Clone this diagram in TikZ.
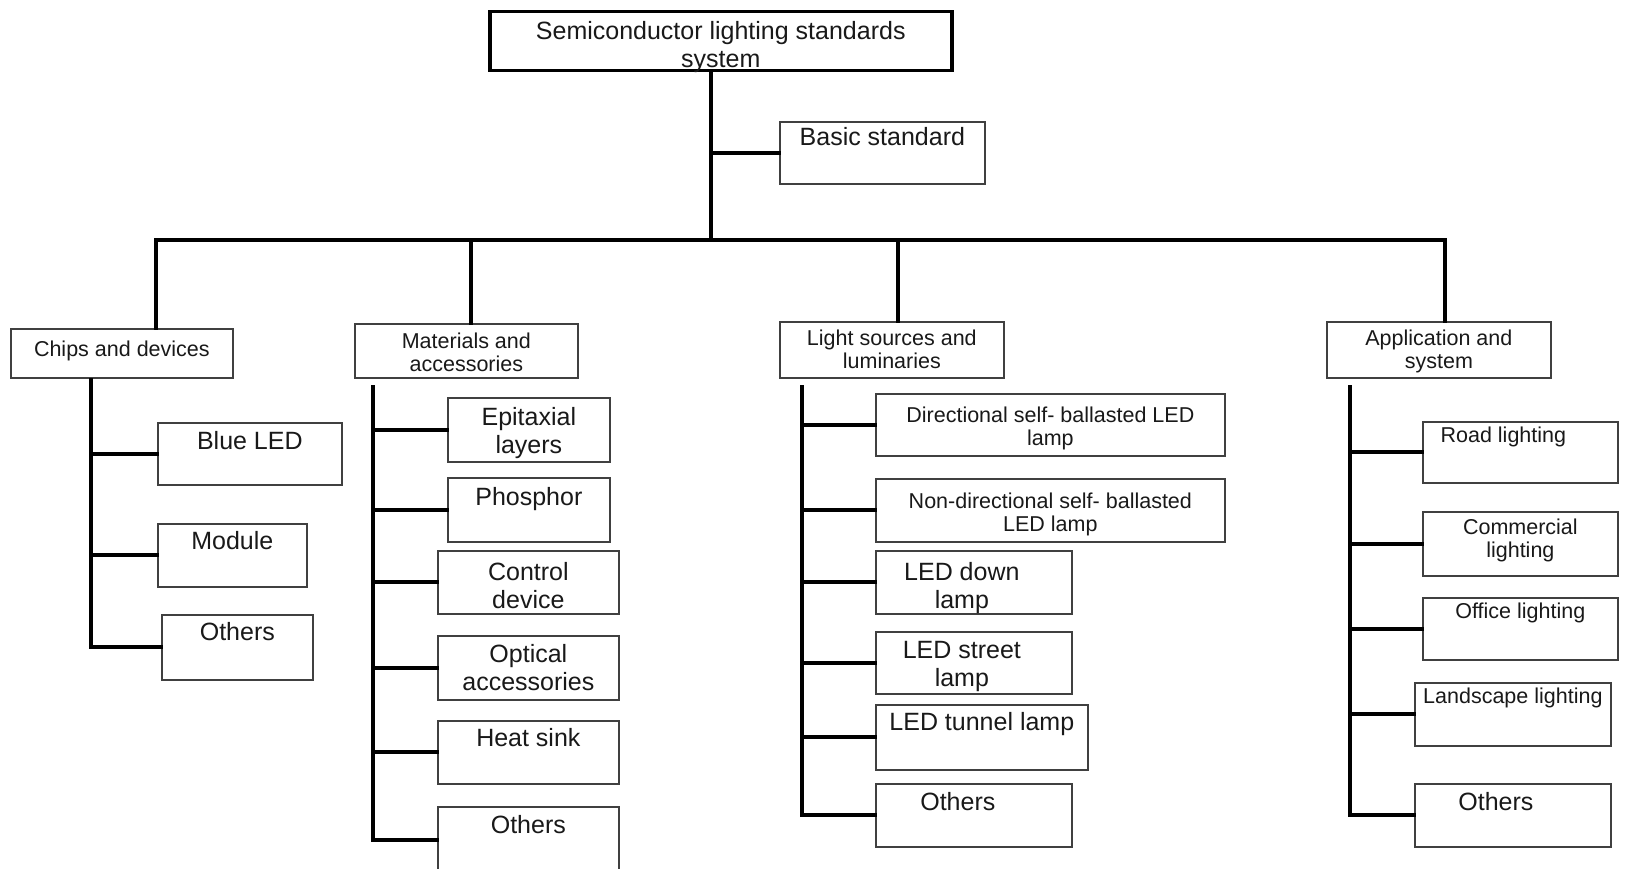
\documentclass[tikz,border=0pt]{standalone}
\usepackage{fontspec}
\setmainfont{Liberation Sans}

\begin{document}
\begin{tikzpicture}[x=1pt,y=-1pt,
 link/.style ={-,draw=black,line width=4pt,line cap=rect},
 leaf/.style ={draw=black!75,line width=1.7pt,anchor=north west,inner sep=0pt},
 big/.style ={font=\fontsize{25}{28}\selectfont,text=black!90,align=center,inner sep=0pt,anchor=north},
 small/.style ={font=\fontsize{21.5}{23}\selectfont,text=black!90,align=center,inner sep=0pt,anchor=north}
 ]
\useasboundingbox[fill=white] (0,0) rectangle (1633,869);
%draw root and basic standard
\node[leaf,line width=3.5pt,draw=black,minimum width=462pt,minimum height=59pt,
 label={[big,yshift=-11pt]north:{Semiconductor lighting standards\\system}}] (root) at (488,10) {};
\node[leaf,minimum width=205pt,minimum height=62pt,
 label={[big,yshift=-6pt]north:{Basic standard}}] (basic) at (779,121) {};
%draw the four categories
\node[leaf,minimum width=222pt,minimum height=49pt,
 label={[small,yshift=-13pt]north:{Chips and devices}}] (chips) at (10,328) {};
\node[leaf,minimum width=223pt,minimum height=54pt,
 label={[small,yshift=-10pt]north:{Materials and\\accessories}}] (mater) at (354,323) {};
\node[leaf,minimum width=224pt,minimum height=56pt,
 label={[small,yshift=-8.5pt]north:{Light sources and\\luminaries}}] (light) at (779,321) {};
\node[leaf,minimum width=224pt,minimum height=56pt,
 label={[small,yshift=-8.5pt]north:{Application and\\system}}] (appl) at (1326,321) {};
%draw chips and devices items
\node[leaf,minimum width=184pt,minimum height=62pt,
 label={[big,yshift=-9pt]north:{Blue LED}}] (blue) at (157,422) {};
\node[leaf,minimum width=149pt,minimum height=63pt,
 label={[big,yshift=-8.5pt]north:{Module}}] (module) at (157,523) {};
\node[leaf,minimum width=151pt,minimum height=65pt,
 label={[big,yshift=-8pt]north:{Others}}] (chOth) at (161,614) {};
%draw materials items
\node[leaf,minimum width=162pt,minimum height=64pt,
 label={[big,yshift=-10pt]north:{Epitaxial\\layers}}] (epi) at (447,397) {};
\node[leaf,minimum width=162pt,minimum height=64pt,
 label={[big,yshift=-10pt]north:{Phosphor}}] (phos) at (447,477) {};
\node[leaf,minimum width=181pt,minimum height=63pt,
 label={[big,yshift=-12pt]north:{Control\\device}}] (ctrl) at (437,550) {};
\node[leaf,minimum width=181pt,minimum height=64pt,
 label={[big,yshift=-9pt]north:{Optical\\accessories}}] (optic) at (437,635) {};
\node[leaf,minimum width=181pt,minimum height=63pt,
 label={[big,yshift=-8pt]north:{Heat sink}}] (heat) at (437,720) {};
\node[leaf,minimum width=181pt,minimum height=66pt,
 label={[big,yshift=-9pt]north:{Others}}] (maOth) at (437,806) {};
%draw light sources items
\node[leaf,minimum width=349pt,minimum height=62pt,
 label={[small,yshift=-14pt]north:{Directional self- ballasted LED\\lamp}}] (dirl) at (875,393) {};
\node[leaf,minimum width=349pt,minimum height=63pt,
 label={[small,yshift=-15pt]north:{Non-directional self- ballasted\\LED lamp}}] (ndirl) at (875,478) {};
\node[leaf,minimum width=196pt,minimum height=63pt,
 label={[big,yshift=-12pt,xshift=-12pt]north:{LED down\\lamp}}] (down) at (875,550) {};
\node[leaf,minimum width=196pt,minimum height=62pt,
 label={[big,yshift=-10pt,xshift=-12pt]north:{LED street\\lamp}}] (street) at (875,631) {};
\node[leaf,minimum width=212pt,minimum height=65pt,
 label={[big,yshift=-8pt]north:{LED tunnel lamp}}] (tunnel) at (875,704) {};
\node[leaf,minimum width=196pt,minimum height=63pt,
 label={[big,yshift=-9pt,xshift=-16pt]north:{Others}}] (liOth) at (875,783) {};
%draw application items
\node[leaf,minimum width=195pt,minimum height=61pt,
 label={[small,yshift=-5.5pt,xshift=-17pt]north:{Road lighting}}] (road) at (1422,421) {};
\node[leaf,minimum width=195pt,minimum height=64pt,
 label={[small,yshift=-7.5pt]north:{Commercial\\lighting}}] (comm) at (1422,511) {};
\node[leaf,minimum width=195pt,minimum height=62pt,
 label={[small,yshift=-5.5pt]north:{Office lighting}}] (office) at (1422,597) {};
\node[leaf,minimum width=196pt,minimum height=63pt,
 label={[small,yshift=-6pt]north:{Landscape lighting}}] (land) at (1414,682) {};
\node[leaf,minimum width=196pt,minimum height=63pt,
 label={[big,yshift=-9pt,xshift=-17pt]north:{Others}}] (apOth) at (1414,783) {};
%trunk and bus points
\coordinate (stem) at (711,240);
\coordinate (busL) at (156,240);
\coordinate (dropB) at (471,240);
\coordinate (dropC) at (898,240);
\coordinate (busR) at (1445,240);
\coordinate (chT) at (91,380);
\coordinate (maT) at (373,387);
\coordinate (liT) at (802,387);
\coordinate (apT) at (1350,387);
%draw root stem and bus
\draw[link] (root.south -| stem) -- (stem);
\draw[link] (basic.west) -- (basic.west -| stem);
\draw[link] (busL) -- (busR);
\draw[link] (busL) -- (chips.north -| busL);
\draw[link] (dropB) -- (mater.north -| dropB);
\draw[link] (dropC) -- (light.north -| dropC);
\draw[link] (busR) -- (appl.north -| busR);
%draw chips branches
\draw[link] (chT) |- (chOth.west);
\draw[link] (blue.west) -- (blue.west -| chT);
\draw[link] (module.west) -- (module.west -| chT);
%draw materials branches
\draw[link] (maT) |- (maOth.west);
\draw[link] (epi.west) -- (epi.west -| maT);
\draw[link] (phos.west) -- (phos.west -| maT);
\draw[link] (ctrl.west) -- (ctrl.west -| maT);
\draw[link] (optic.west) -- (optic.west -| maT);
\draw[link] (heat.west) -- (heat.west -| maT);
%draw light sources branches
\draw[link] (liT) |- (liOth.west);
\draw[link] (dirl.west) -- (dirl.west -| liT);
\draw[link] (ndirl.west) -- (ndirl.west -| liT);
\draw[link] (down.west) -- (down.west -| liT);
\draw[link] (street.west) -- (street.west -| liT);
\draw[link] (tunnel.west) -- (tunnel.west -| liT);
%draw application branches
\draw[link] (apT) |- (apOth.west);
\draw[link] (road.west) -- (road.west -| apT);
\draw[link] (comm.west) -- (comm.west -| apT);
\draw[link] (office.west) -- (office.west -| apT);
\draw[link] (land.west) -- (land.west -| apT);
\end{tikzpicture}
\end{document}
